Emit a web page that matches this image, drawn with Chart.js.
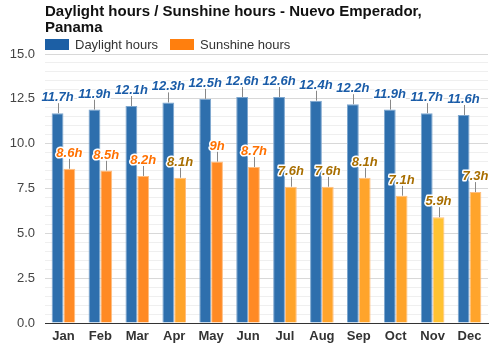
<!DOCTYPE html>
<html>
<head>
<meta charset="utf-8">
<script src="https://cdn.jsdelivr.net/npm/chart.js@4"></script>
<style>
  html, body { margin: 0; padding: 0; background: #fff; }
  #wrap { width: 500px; height: 350px; }
</style>
</head>
<body>
<div id="wrap"><canvas id="sunChart" width="500" height="350"></canvas></div>
<script>
const months = ['Jan', 'Feb', 'Mar', 'Apr', 'May', 'Jun', 'Jul', 'Aug', 'Sep', 'Oct', 'Nov', 'Dec'];
const daylight = [11.7, 11.9, 12.1, 12.3, 12.5, 12.6, 12.6, 12.4, 12.2, 11.9, 11.7, 11.6];
const sunshine = [8.6, 8.5, 8.2, 8.1, 9, 8.7, 7.6, 7.6, 8.1, 7.1, 5.9, 7.3];
const yTicks = [0, 2.5, 5, 7.5, 10, 12.5, 15];

const FONT = '"Liberation Sans", Arial, sans-serif';

function sunFill(v) {
    if (v >= 8.2) return '#FF8A24';
    if (v >= 7) return '#FFA42B';
    return '#FFC232';
}
function sunLabel(v) {
    return v >= 8.2 ? '#FF7000' : '#A86E00';
}

// title + legend, drawn over the plot's left edge
const headerPlugin = {
    id: 'header',
    afterDraw(chart) {
        const ctx = chart.ctx;
        const left = chart.chartArea.left;
        ctx.save();
        ctx.fillStyle = '#111';
        ctx.font = 'bold 15px ' + FONT;
        ctx.textBaseline = 'alphabetic';
        ctx.textAlign = 'left';
        ctx.fillText('Daylight hours / Sunshine hours - Nuevo Emperador,', left, 16);
        ctx.fillText('Panama', left, 32);

        ctx.font = '13px ' + FONT;
        ctx.fillStyle = '#1C5FA5';
        ctx.fillRect(left, 39, 24, 11);
        ctx.fillStyle = '#333';
        ctx.fillText('Daylight hours', left + 30, 49);
        ctx.fillStyle = '#FF7F0E';
        ctx.fillRect(left + 125, 39, 24, 11);
        ctx.fillStyle = '#333';
        ctx.fillText('Sunshine hours', left + 155, 49);
        ctx.restore();
    }
};

// value labels with a small leader line above each bar
const valueLabels = {
    id: 'valueLabels',
    afterDatasetsDraw(chart) {
        const ctx = chart.ctx;
        ctx.save();
        ctx.font = 'italic bold 13px ' + FONT;
        ctx.textAlign = 'center';
        ctx.textBaseline = 'alphabetic';
        chart.data.datasets.forEach((ds, di) => {
            const meta = chart.getDatasetMeta(di);
            meta.data.forEach((bar, i) => {
                const v = ds.data[i];
                const top = bar.y;
                ctx.strokeStyle = '#888';
                ctx.lineWidth = 1;
                ctx.beginPath();
                ctx.moveTo(Math.round(bar.x) + 0.5, top);
                ctx.lineTo(Math.round(bar.x) + 0.5, top - 10);
                ctx.stroke();
                const txt = v + 'h';
                ctx.lineJoin = 'round';
                ctx.lineWidth = 3;
                ctx.strokeStyle = '#fff';
                ctx.strokeText(txt, bar.x, top - 12);
                ctx.fillStyle = di === 0 ? '#1A5CA8' : sunLabel(v);
                ctx.fillText(txt, bar.x, top - 12);
            });
        });
        ctx.restore();
    }
};

new Chart(document.getElementById('sunChart').getContext('2d'), {
    type: 'bar',
    data: {
        labels: months,
        datasets: [{
            label: 'Daylight hours',
            data: daylight,
            backgroundColor: '#2E6FAD',
            borderColor: '#7EA7CF',
            borderWidth: 1,
            borderSkipped: 'bottom',
            barPercentage: 1,
            categoryPercentage: 0.64
        }, {
            label: 'Sunshine hours',
            data: sunshine,
            backgroundColor: sunshine.map(sunFill),
            borderColor: '#FFBE80',
            borderWidth: 1,
            borderSkipped: 'bottom',
            barPercentage: 1,
            categoryPercentage: 0.64
        }]
    },
    options: {
        responsive: false,
        animation: false,
        layout: {
            padding: { top: 54, right: 12, left: 0, bottom: 0 }
        },
        plugins: {
            legend: { display: false },
            title: { display: false },
            tooltip: { enabled: false }
        },
        scales: {
            x: {
                afterFit(scale) { scale.height = 27; },
                grid: { display: false, drawTicks: false },
                border: { color: '#333', width: 1 },
                ticks: {
                    color: '#333',
                    padding: 6,
                    font: { family: FONT, size: 13, weight: 'bold' }
                }
            },
            y: {
                min: 0,
                max: 15,
                afterFit(scale) { scale.width = 45; },
                grid: {
                    drawTicks: false,
                    color: ctx => yTicks.includes(ctx.tick.value) ? '#d8d8d8' : '#efefef'
                },
                border: { display: false },
                ticks: {
                    stepSize: 0.5,
                    autoSkip: false,
                    padding: 10,
                    color: '#444',
                    font: { family: FONT, size: 13 },
                    callback: v => yTicks.includes(v) ? v.toFixed(1) : ''
                }
            }
        }
    },
    plugins: [headerPlugin, valueLabels]
});
</script>
</body>
</html>
